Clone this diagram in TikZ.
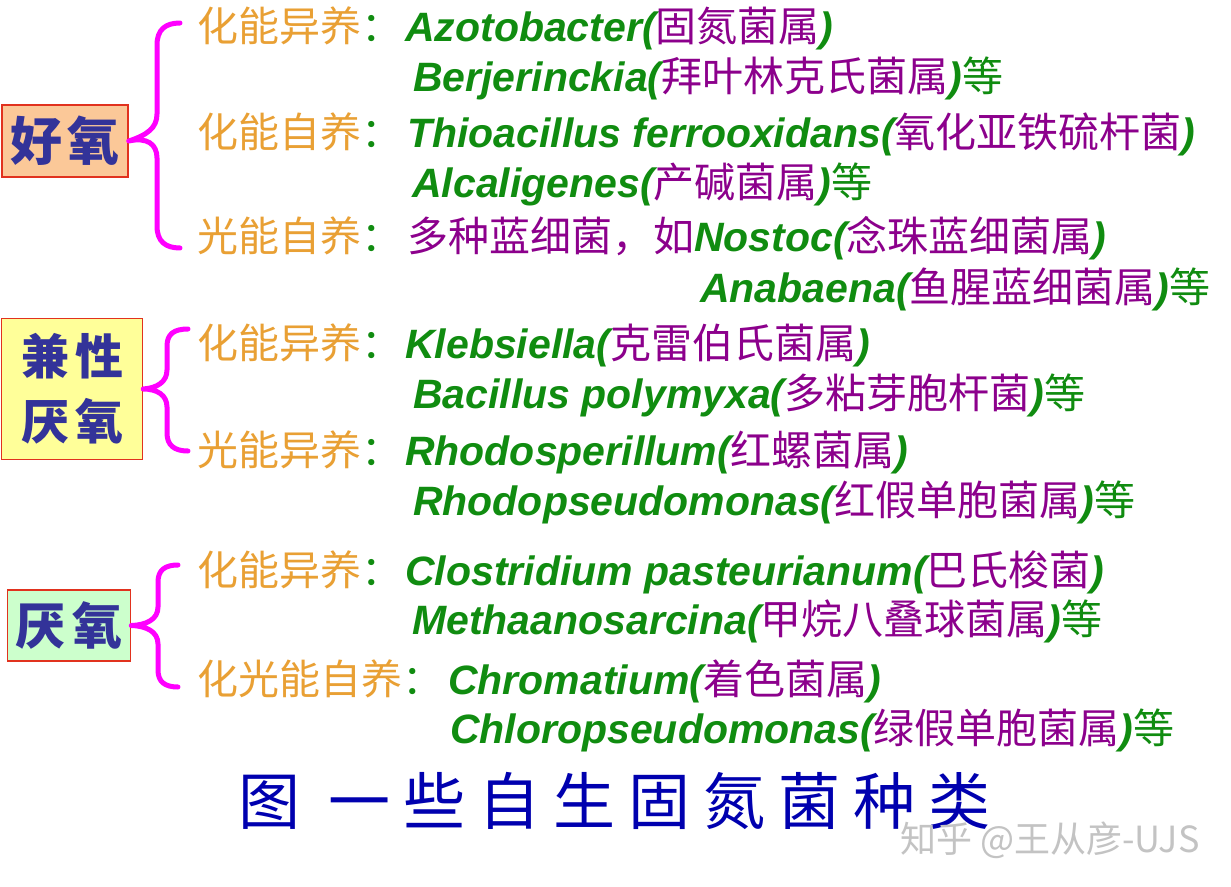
\documentclass[tikz,border=0pt]{standalone}
\usepackage{fontspec}
\setmainfont{Liberation Sans}
\newfontfamily\cjk{Noto Sans CJK SC}
\definecolor{orangec}{RGB}{233,160,52}
\definecolor{greenc}{RGB}{16,140,16}
\definecolor{purp}{RGB}{140,0,140}
\definecolor{navy}{RGB}{51,51,153}
\definecolor{titleblue}{RGB}{0,0,175}
\definecolor{mag}{RGB}{255,0,255}
\definecolor{boxred}{RGB}{225,50,30}
\definecolor{fillA}{RGB}{251,200,152}
\definecolor{fillB}{RGB}{255,255,153}
\definecolor{fillC}{RGB}{204,255,204}
\definecolor{wmgray}{RGB}{195,195,195}
\newcommand\Gi[1]{{\color{greenc}\bfseries\itshape #1}}
\newcommand\Pu[1]{{\color{purp}\cjk #1}}
\newcommand\Gc[1]{{\color{greenc}\cjk #1}}
\newcommand\Col{{\color{greenc}：}}
\tikzset{
  lbl/.style={anchor=base west, inner sep=0pt, text=orangec, font=\cjk\fontsize{41}{41}\selectfont},
  body/.style={anchor=base west, inner sep=0pt, font=\fontsize{41}{41}\selectfont},
  catbox/.style={draw=boxred, line width=1.5pt, inner sep=0pt, text=navy, align=center},
  bracep/.style={draw=mag, line width=5pt, line cap=round, line join=round}
}
\begin{document}
\begin{tikzpicture}[x=1pt,y=-1pt]
\useasboundingbox (0,0) rectangle (1231,886);
\fill[white] (0,0) rectangle (1231,886);

% category boxes
\node[catbox, fill=fillA, minimum width=126pt, minimum height=72pt,
  font=\cjk\bfseries\fontsize{52}{60}\selectfont] (aer) at (65,141) {好\kern6pt 氧};
\node[catbox, fill=fillB, minimum width=141pt, minimum height=141pt,
  font=\cjk\bfseries\fontsize{48}{65}\selectfont] (fac) at (72,389) {兼\kern6pt 性\\厌\kern6pt 氧};
\node[catbox, fill=fillC, minimum width=123pt, minimum height=71pt,
  font=\cjk\bfseries\fontsize{50}{60}\selectfont] (ana) at (69,625.5) {厌\kern7pt 氧};

% braces
\coordinate (b1t) at (180,23);  \coordinate (b1b) at (180,248);
\coordinate (b2t) at (188,329); \coordinate (b2b) at (188,451);
\coordinate (b3t) at (178,565); \coordinate (b3b) at (178,687);
\draw[bracep] (b1t) .. controls (165,23) and (157,30) .. (157,45) -- (157,114)
  .. controls (157,128) and (147,135) .. (aer.east) .. controls (147,137) and (157,144) .. (157,158)
  -- (157,226) .. controls (157,241) and (165,248) .. (b1b);
\draw[bracep] (b2t) .. controls (174,329) and (167,334) .. (167,346) -- (167,370)
  .. controls (167,382) and (157,388) .. (fac.east) .. controls (157,389) and (167,395) .. (167,407)
  -- (167,433) .. controls (167,445) and (174,451) .. (b2b);
\draw[bracep] (b3t) .. controls (165,565) and (158,570) .. (158,582) -- (158,607)
  .. controls (158,619) and (147,625) .. (ana.east) .. controls (147,626) and (158,632) .. (158,644)
  -- (158,670) .. controls (158,682) and (165,687) .. (b3b);

% aerobic
\node[lbl] (l1) at (197,41) {化能异养\Col};
\node[body] (t1) at (405,41) {\Gi{Azotobacter(}\Pu{固氮菌属}\Gi{)}};
\node[body] (t2) at (413,91) {\Gi{Berjerinckia(}\Pu{拜叶林克氏菌属}\Gi{)}\Gc{等}};
\node[lbl] (l2) at (197,147) {化能自养\Col};
\node[body] (t3) at (407,147) {\Gi{Thioacillus ferrooxidans(}\Pu{氧化亚铁硫杆菌}\Gi{)}};
\node[body] (t4) at (412,197) {\Gi{Alcaligenes(}\Pu{产碱菌属}\Gi{)}\Gc{等}};
\node[lbl] (l3) at (197,251) {光能自养\Col};
\node[body] (t5) at (407,251) {\Pu{多种蓝细菌，如}\Gi{Nostoc(}\Pu{念珠蓝细菌属}\Gi{)}};
\node[body] (t6) at (700,302) {\Gi{Anabaena(}\Pu{鱼腥蓝细菌属}\Gi{)}\Gc{等}};

% facultative anaerobic
\node[lbl] (l4) at (197,358) {化能异养\Col};
\node[body] (t7) at (405,358) {\Gi{Klebsiella(}\Pu{克雷伯氏菌属}\Gi{)}};
\node[body] (t8) at (413,408) {\Gi{Bacillus polymyxa(}\Pu{多粘芽胞杆菌}\Gi{)}\Gc{等}};
\node[lbl] (l5) at (197,465) {光能异养\Col};
\node[body] (t9) at (405,465) {\Gi{Rhodosperillum(}\Pu{红螺菌属}\Gi{)}};
\node[body] (t10) at (413,515) {\Gi{Rhodopseudomonas(}\Pu{红假单胞菌属}\Gi{)}\Gc{等}};

% anaerobic
\node[lbl] (l6) at (197,585) {化能异养\Col};
\node[body] (t11) at (405,585) {\Gi{Clostridium pasteurianum(}\Pu{巴氏梭菌}\Gi{)}};
\node[body] (t12) at (412,634) {\Gi{Methaanosarcina(}\Pu{甲烷八叠球菌属}\Gi{)}\Gc{等}};
\node[lbl] (l7) at (197,694) {化光能自养\Col};
\node[body] (t13) at (448,694) {\Gi{Chromatium(}\Pu{着色菌属}\Gi{)}};
\node[body] (t14) at (450,743) {\Gi{Chloropseudomonas(}\Pu{绿假单胞菌属}\Gi{)}\Gc{等}};

% title
\node[anchor=base west, inner sep=0pt, text=titleblue, font=\cjk\fontsize{62}{62}\selectfont] (title) at (238,824)
  {图\kern28pt 一\kern13pt 些\kern13pt 自\kern13pt 生\kern13pt 固\kern13pt 氮\kern13pt 菌\kern13pt 种\kern13pt 类};

% watermark
\node[anchor=base west, inner sep=0pt, text=wmgray, font=\cjk\fontsize{36}{36}\selectfont] (wm) at (900,852)
  {知乎 @王从彦-UJS};
\end{tikzpicture}
\end{document}
